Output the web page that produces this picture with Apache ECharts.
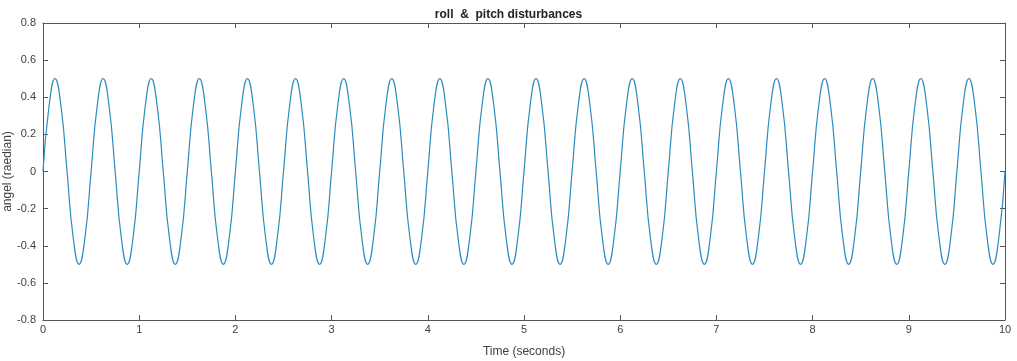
<!DOCTYPE html>
<html>
<head>
<meta charset="utf-8">
<title>roll & pitch disturbances</title>
<script src="https://cdn.jsdelivr.net/npm/echarts@6/dist/echarts.min.js"></script>
<style>
  html, body { margin: 0; padding: 0; background: #fff; }
  #chart { width: 1017px; height: 361px; }
</style>
</head>
<body>
<div id="chart"></div>
<script>
// time samples (s), read every 1/16 s off the picture
var timeSec = [
  0, 0.0625, 0.125, 0.1875, 0.25, 0.3125, 0.375, 0.4375, 0.5, 0.5625, 0.625, 0.6875, 0.75, 0.8125, 0.875, 0.9375,
  1, 1.0625, 1.125, 1.1875, 1.25, 1.3125, 1.375, 1.4375, 1.5, 1.5625, 1.625, 1.6875, 1.75, 1.8125, 1.875, 1.9375,
  2, 2.0625, 2.125, 2.1875, 2.25, 2.3125, 2.375, 2.4375, 2.5, 2.5625, 2.625, 2.6875, 2.75, 2.8125, 2.875, 2.9375,
  3, 3.0625, 3.125, 3.1875, 3.25, 3.3125, 3.375, 3.4375, 3.5, 3.5625, 3.625, 3.6875, 3.75, 3.8125, 3.875, 3.9375,
  4, 4.0625, 4.125, 4.1875, 4.25, 4.3125, 4.375, 4.4375, 4.5, 4.5625, 4.625, 4.6875, 4.75, 4.8125, 4.875, 4.9375,
  5, 5.0625, 5.125, 5.1875, 5.25, 5.3125, 5.375, 5.4375, 5.5, 5.5625, 5.625, 5.6875, 5.75, 5.8125, 5.875, 5.9375,
  6, 6.0625, 6.125, 6.1875, 6.25, 6.3125, 6.375, 6.4375, 6.5, 6.5625, 6.625, 6.6875, 6.75, 6.8125, 6.875, 6.9375,
  7, 7.0625, 7.125, 7.1875, 7.25, 7.3125, 7.375, 7.4375, 7.5, 7.5625, 7.625, 7.6875, 7.75, 7.8125, 7.875, 7.9375,
  8, 8.0625, 8.125, 8.1875, 8.25, 8.3125, 8.375, 8.4375, 8.5, 8.5625, 8.625, 8.6875, 8.75, 8.8125, 8.875, 8.9375,
  9, 9.0625, 9.125, 9.1875, 9.25, 9.3125, 9.375, 9.4375, 9.5, 9.5625, 9.625, 9.6875, 9.75, 9.8125, 9.875, 9.9375,
  10
];
// angle (raedian) at each sample
var angle = [
  0, 0.35, 0.5, 0.35, 0, -0.35, -0.5, -0.35, 0, 0.35, 0.5, 0.35, 0, -0.35, -0.5, -0.35,
  0, 0.35, 0.5, 0.35, 0, -0.35, -0.5, -0.35, 0, 0.35, 0.5, 0.35, 0, -0.35, -0.5, -0.35,
  0, 0.35, 0.5, 0.35, 0, -0.35, -0.5, -0.35, 0, 0.35, 0.5, 0.35, 0, -0.35, -0.5, -0.35,
  0, 0.35, 0.5, 0.35, 0, -0.35, -0.5, -0.35, 0, 0.35, 0.5, 0.35, 0, -0.35, -0.5, -0.35,
  0, 0.35, 0.5, 0.35, 0, -0.35, -0.5, -0.35, 0, 0.35, 0.5, 0.35, 0, -0.35, -0.5, -0.35,
  0, 0.35, 0.5, 0.35, 0, -0.35, -0.5, -0.35, 0, 0.35, 0.5, 0.35, 0, -0.35, -0.5, -0.35,
  0, 0.35, 0.5, 0.35, 0, -0.35, -0.5, -0.35, 0, 0.35, 0.5, 0.35, 0, -0.35, -0.5, -0.35,
  0, 0.35, 0.5, 0.35, 0, -0.35, -0.5, -0.35, 0, 0.35, 0.5, 0.35, 0, -0.35, -0.5, -0.35,
  0, 0.35, 0.5, 0.35, 0, -0.35, -0.5, -0.35, 0, 0.35, 0.5, 0.35, 0, -0.35, -0.5, -0.35,
  0, 0.35, 0.5, 0.35, 0, -0.35, -0.5, -0.35, 0, 0.35, 0.5, 0.35, 0, -0.35, -0.5, -0.35,
  0
];
var xTicks = [0, 1, 2, 3, 4, 5, 6, 7, 8, 9, 10];
var yTicks = [-0.8, -0.6, -0.4, -0.2, 0, 0.2, 0.4, 0.6, 0.8];

var chart = echarts.init(document.getElementById('chart'));
var font = 'Liberation Sans, Arial, sans-serif';
var axisColor = '#555';
var lblColor = '#404040';

var points = timeSec.map(function (t, i) { return [t, angle[i]]; });

function xAxisCfg(pos, showLabel) {
  return {
    type: 'value', position: pos, min: xTicks[0], max: xTicks[xTicks.length - 1], interval: 1,
    axisLine: { show: true, onZero: false, lineStyle: { color: axisColor, width: 1 } },
    axisTick: { show: true, inside: true, length: 5, lineStyle: { color: axisColor } },
    axisLabel: { show: showLabel, color: lblColor, fontSize: 11, fontFamily: font, margin: 4 },
    splitLine: { show: false }
  };
}
function yAxisCfg(pos, showLabel) {
  return {
    type: 'value', position: pos, min: yTicks[0], max: yTicks[yTicks.length - 1], interval: 0.2,
    axisLine: { show: true, onZero: false, lineStyle: { color: axisColor, width: 1 } },
    axisTick: { show: true, inside: true, length: 5, lineStyle: { color: axisColor } },
    axisLabel: {
      show: showLabel, color: lblColor, fontSize: 11, fontFamily: font, margin: 7,
      formatter: function (v) { return Math.abs(v) < 1e-9 ? '0' : String(Math.round(v * 10) / 10); }
    },
    splitLine: { show: false }
  };
}

var xBottom = xAxisCfg('bottom', true);
xBottom.name = 'Time (seconds)';
xBottom.nameLocation = 'middle';
xBottom.nameGap = 26;
xBottom.nameMoveOverlap = false;
xBottom.nameTextStyle = { color: lblColor, fontSize: 12, fontFamily: font };

var yLeft = yAxisCfg('left', true);
yLeft.name = 'angel (raedian)';
yLeft.nameLocation = 'middle';
yLeft.nameGap = 29;
yLeft.nameMoveOverlap = false;
yLeft.nameTextStyle = { color: lblColor, fontSize: 12, fontFamily: font };

var option = {
  animation: false,
  title: {
    text: 'roll  &  pitch disturbances',
    left: 'center', top: 4,
    textStyle: { fontSize: 12, fontWeight: 'bold', color: '#222', fontFamily: font }
  },
  grid: { left: 43, right: 12, top: 23, bottom: 41, containLabel: false, outerBoundsMode: 'none' },
  xAxis: [xBottom, xAxisCfg('top', false)],
  yAxis: [yLeft, yAxisCfg('right', false)],
  series: [{
    type: 'line',
    data: points,
    smooth: 0.5,
    showSymbol: false,
    lineStyle: { color: '#2a8bbf', width: 1.2 }
  }]
};
chart.setOption(option);
</script>
</body>
</html>
